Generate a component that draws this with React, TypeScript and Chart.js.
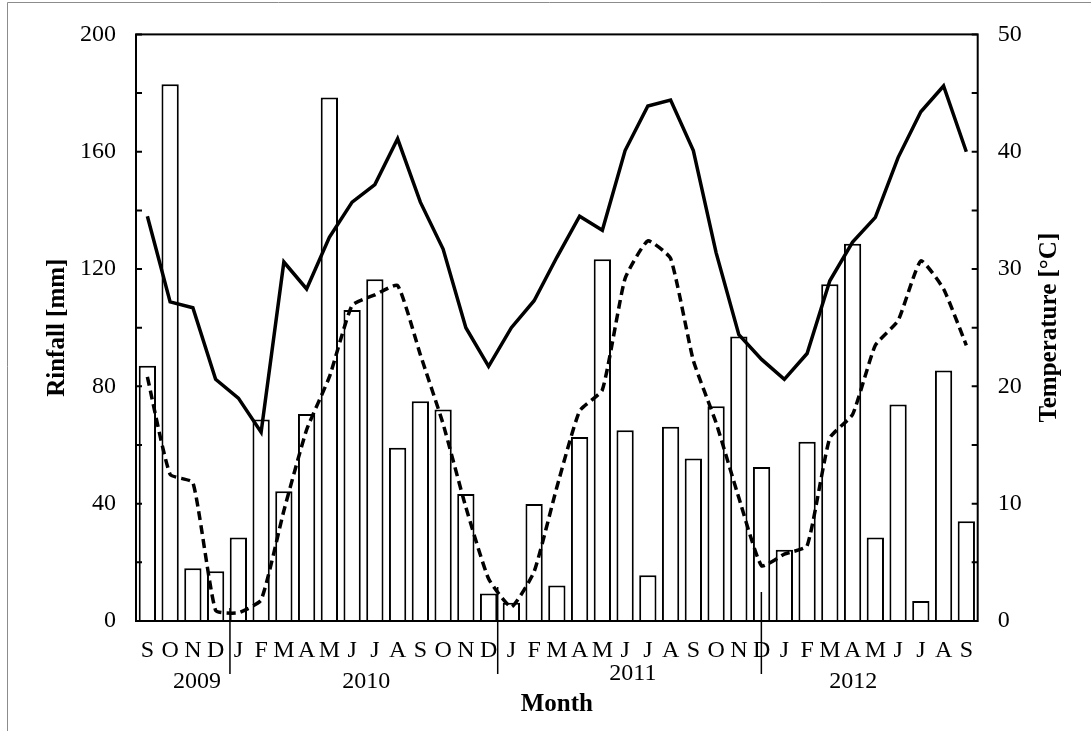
import { useEffect, useRef } from 'react';
import { Chart, registerables } from 'chart.js';

Chart.register(...registerables);

// Months from September 2009 to September 2012
const months = [
  'S', 'O', 'N', 'D',
  'J', 'F', 'M', 'A', 'M', 'J', 'J', 'A', 'S', 'O', 'N', 'D',
  'J', 'F', 'M', 'A', 'M', 'J', 'J', 'A', 'S', 'O', 'N', 'D',
  'J', 'F', 'M', 'A', 'M', 'J', 'J', 'A', 'S',
];

// Monthly rainfall [mm]
const rainfall = [
  87, 183, 18, 17,
  28.5, 68.7, 44.2, 70.6, 178.5, 106, 116.5, 59.1, 74.9, 72.1, 43.3, 9.4,
  6.2, 39.9, 12.1, 62.7, 123.3, 65, 15.6, 66.2, 55.4, 73.2, 97, 52.5,
  24.3, 61.1, 114.8, 128.6, 28.5, 73.8, 6.8, 85.4, 34,
];

// Monthly maximum temperature [°C]
const maxTemp = [
  34.5, 27.2, 26.7, 20.6,
  19.0, 16.1, 30.6, 28.3, 32.7, 35.7, 37.2, 41.1, 35.7, 31.7, 25.0, 21.7,
  25.0, 27.3, 31.0, 34.5, 33.3, 40.1, 43.9, 44.4, 40.1, 31.4, 24.4, 22.3,
  20.6, 22.8, 29.0, 32.3, 34.4, 39.5, 43.4, 45.6, 40.0,
];

// Monthly minimum temperature [°C]
const minTemp = [
  20.8, 12.5, 11.8, 0.9,
  0.7, 1.8, 9.4, 16.3, 20.8, 26.9, 27.8, 28.6, 22.7, 16.8, 9.7, 3.6,
  1.2, 4.2, 11.4, 17.9, 19.7, 29.2, 32.4, 30.9, 22.2, 16.9, 10.5, 4.7,
  5.7, 6.4, 15.6, 17.6, 23.5, 25.6, 30.7, 28.3, 23.5,
];

const years = ['2009', '2010', '2011', '2012'];
const rainAxis = { min: 0, max: 200, step: 20, labelEvery: 40 };
const tempAxis = { min: 0, max: 50, step: 5, labelEvery: 10 };

const SERIF = '"Liberation Serif", "Times New Roman", serif';

// Year captions (category position, offset below the axis) and the
// year-boundary strokes (category position, top value on the rainfall axis).
const yearCaptions = [
  { text: years[0], at: 2.18, dy: 61 },
  { text: years[1], at: 9.62, dy: 61 },
  { text: years[2], at: 21.34, dy: 53 },
  { text: years[3], at: 31.03, dy: 61 },
];
const yearBreaks = [
  { at: 3.63, top: 4.4 },
  { at: 15.4, top: 11.6 },
  { at: 26.99, top: 9.9 },
];

const decorations = {
  id: 'decorations',
  afterDraw(chart: any) {
    const { ctx, chartArea: a, scales } = chart;
    const xs = scales.x;
    const yl = scales.y;
    const yr = scales.y1;
    ctx.save();

    // outer frame
    ctx.strokeStyle = '#8c8c8c';
    ctx.lineWidth = 1;
    ctx.beginPath();
    ctx.moveTo(7.5, chart.height);
    ctx.lineTo(7.5, 2.5);
    ctx.lineTo(chart.width, 2.5);
    ctx.stroke();

    // plot box
    ctx.strokeStyle = '#000';
    ctx.lineWidth = 2;
    ctx.strokeRect(a.left, a.top, a.right - a.left, a.bottom - a.top);

    // inward tick marks on both value axes
    ctx.beginPath();
    yl.ticks.forEach((t: any) => {
      const py = yl.getPixelForValue(t.value);
      ctx.moveTo(a.left, py);
      ctx.lineTo(a.left + 6, py);
    });
    yr.ticks.forEach((t: any) => {
      const py = yr.getPixelForValue(t.value);
      ctx.moveTo(a.right - 6, py);
      ctx.lineTo(a.right, py);
    });
    ctx.stroke();

    // year boundaries
    ctx.lineWidth = 1.5;
    ctx.beginPath();
    yearBreaks.forEach((b) => {
      const px = xs.getPixelForValue(b.at);
      ctx.moveTo(px, yl.getPixelForValue(b.top));
      ctx.lineTo(px, a.bottom + 53);
    });
    ctx.stroke();

    ctx.fillStyle = '#000';
    ctx.textAlign = 'center';
    ctx.textBaseline = 'middle';

    // year captions
    ctx.font = `24px ${SERIF}`;
    yearCaptions.forEach((c) => {
      ctx.fillText(c.text, xs.getPixelForValue(c.at), a.bottom + c.dy);
    });

    // axis titles
    ctx.font = `bold 25px ${SERIF}`;
    ctx.fillText('Month', (a.left + a.right) / 2, a.bottom + 84);
    const cy = (a.top + a.bottom) / 2;
    ctx.save();
    ctx.translate(a.left - 78, cy);
    ctx.rotate(-Math.PI / 2);
    ctx.fillText('Rinfall [mm]', 0, 0);
    ctx.restore();
    ctx.save();
    ctx.translate(a.right + 72, cy);
    ctx.rotate(-Math.PI / 2);
    ctx.fillText('Temperature [°C]', 0, 0);
    ctx.restore();

    ctx.restore();
  },
};

export default function App() {
  const canvasRef = useRef<HTMLCanvasElement>(null);

  useEffect(() => {
    const canvas = canvasRef.current;
    if (!canvas) return;
    const tickFont = { family: SERIF, size: 24 };

    const chart = new Chart(canvas, {
      type: 'bar',
      data: {
        labels: months,
        datasets: [
          {
            type: 'line',
            label: 'Max temperature',
            data: maxTemp,
            yAxisID: 'y1',
            borderColor: '#000',
            borderWidth: 3.5,
            pointRadius: 0,
            tension: 0,
            fill: false,
            order: 0,
          },
          {
            type: 'line',
            label: 'Min temperature',
            data: minTemp,
            yAxisID: 'y1',
            borderColor: '#000',
            borderWidth: 3.5,
            borderDash: [9, 5],
            pointRadius: 0,
            tension: 0.15,
            fill: false,
            order: 0,
          },
          {
            type: 'bar',
            label: 'Rainfall',
            data: rainfall,
            yAxisID: 'y',
            backgroundColor: '#fff',
            borderColor: '#000',
            borderWidth: 2,
            categoryPercentage: 1,
            barPercentage: 0.76,
            order: 1,
          },
        ],
      },
      options: {
        responsive: false,
        animation: false,
        devicePixelRatio: 1,
        layout: { padding: { top: 31.7, left: 0, right: 0, bottom: 0 } },
        plugins: {
          legend: { display: false },
          tooltip: { enabled: false },
        },
        scales: {
          x: {
            type: 'category',
            offset: true,
            grid: { display: false, drawTicks: false },
            border: { display: false },
            ticks: {
              autoSkip: false,
              maxRotation: 0,
              minRotation: 0,
              padding: 15,
              color: '#000',
              font: tickFont,
            },
            afterFit: (s: any) => {
              s.height = 110;
            },
          },
          y: {
            position: 'left',
            min: rainAxis.min,
            max: rainAxis.max,
            grid: { display: false, drawTicks: false },
            border: { display: false },
            ticks: {
              stepSize: rainAxis.step,
              padding: 20,
              color: '#000',
              font: tickFont,
              callback: (v: any) => (Number(v) % rainAxis.labelEvery === 0 ? String(v) : ''),
            },
            afterFit: (s: any) => {
              s.width = 136;
            },
          },
          y1: {
            position: 'right',
            min: tempAxis.min,
            max: tempAxis.max,
            grid: { display: false, drawTicks: false },
            border: { display: false },
            ticks: {
              stepSize: tempAxis.step,
              padding: 20,
              color: '#000',
              font: tickFont,
              callback: (v: any) => (Number(v) % tempAxis.labelEvery === 0 ? String(v) : ''),
            },
            afterFit: (s: any) => {
              s.width = 1091 - 977.7;
            },
          },
        },
      },
      plugins: [decorations],
    });

    return () => chart.destroy();
  }, []);

  return (
    <div style={{ position: 'fixed', left: 0, top: 0, width: 1091, height: 731, background: '#fff' }}>
      <canvas ref={canvasRef} width={1091} height={731} style={{ display: 'block' }} />
    </div>
  );
}
